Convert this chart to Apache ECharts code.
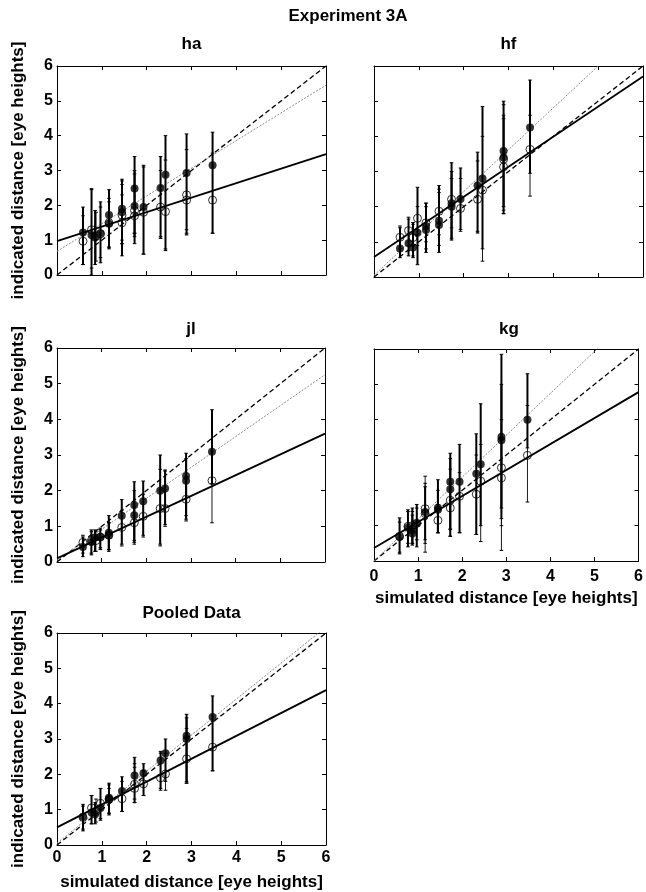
<!DOCTYPE html>
<html><head><meta charset="utf-8">
<script src="https://cdn.jsdelivr.net/npm/echarts@6/dist/echarts.min.js"></script>
<style>html,body{margin:0;padding:0;background:#fff}#c{width:646px;height:892px}</style>
</head><body><div id="c"></div>
<script>
// ---------- DATA ----------
// each point: [simulated distance, indicated distance, error low, error high]
const panelNames = ['ha', 'hf', 'jl', 'kg', 'Pooled Data'];
const xTicks = [0, 1, 2, 3, 4, 5, 6];
const yTicks = [0, 1, 2, 3, 4, 5, 6];

const ha_filled = [[0.58,1.22,0.3,1.95],[0.77,1.15,0.0,2.48],[0.85,1.08,0.3,1.85],[0.97,1.2,0.35,2.1],[1.16,1.72,0.75,2.45],[1.16,1.47,0.8,2.2],[1.45,1.9,0.55,2.75],[1.45,1.8,0.9,2.7],[1.73,2.48,0.9,3.4],[1.73,1.98,1.1,3.0],[1.93,1.95,0.6,3.15],[2.31,2.5,1.05,3.4],[2.42,2.88,0.7,4.0],[2.89,2.93,1.15,4.05],[3.47,3.15,1.2,4.1]];
const ha_open = [[0.58,0.97,0.3,1.7],[0.77,1.3,0.2,2.45],[0.87,1.12,0.4,1.8],[0.97,1.18,0.5,1.95],[1.16,1.5,0.8,2.1],[1.45,1.72,1.0,2.6],[1.45,1.5,0.9,2.3],[1.73,1.85,1.2,2.9],[1.73,1.7,1.2,2.5],[1.93,1.8,0.6,3.1],[2.31,1.95,1.1,3.0],[2.42,1.82,0.75,3.3],[2.89,2.3,1.2,3.6],[2.89,2.15,1.3,3.0],[3.47,2.15,1.2,3.5]];

const hf_filled = [[0.58,0.81,0.55,1.4],[0.77,0.96,0.6,1.65],[0.87,0.84,0.55,1.55],[0.97,1.26,0.35,2.55],[1.16,1.34,0.7,2.1],[1.16,1.45,0.8,2.0],[1.45,1.48,0.7,2.6],[1.45,1.6,0.9,2.4],[1.73,2.0,1.05,3.25],[1.73,2.1,1.1,3.0],[1.93,2.22,1.35,3.1],[2.31,2.6,1.25,3.55],[2.42,2.8,0.8,4.85],[2.89,3.58,1.8,5.0],[2.89,3.4,2.0,4.6],[3.48,4.25,2.95,5.6]];
const hf_open = [[0.58,1.13,0.8,1.45],[0.77,1.32,0.75,1.7],[0.87,1.12,0.6,1.5],[0.97,1.67,0.9,2.0],[1.16,1.54,1.0,2.1],[1.45,1.87,1.2,2.5],[1.73,2.21,1.4,2.8],[1.93,1.95,1.3,2.8],[2.31,2.21,1.3,3.3],[2.42,2.47,0.45,4.0],[2.89,3.35,1.9,4.9],[2.89,3.13,1.8,4.5],[3.48,3.63,2.3,4.6]];

const jl_filled = [[0.58,0.42,0.15,0.7],[0.77,0.56,0.2,0.9],[0.85,0.69,0.3,0.9],[0.97,0.7,0.35,0.95],[1.16,0.82,0.3,1.3],[1.16,0.75,0.35,1.1],[1.45,1.3,0.5,1.75],[1.73,1.6,0.55,2.25],[1.73,1.31,0.6,2.0],[1.93,1.7,0.75,2.27],[2.31,2.0,0.5,3.0],[2.42,2.06,1.05,2.58],[2.89,2.41,1.2,3.05],[2.89,2.28,1.3,2.9],[3.47,3.09,2.2,4.27]];
const jl_open = [[0.58,0.55,0.25,0.75],[0.77,0.6,0.25,0.85],[0.87,0.6,0.3,0.85],[0.97,0.7,0.4,0.9],[1.16,0.75,0.35,1.1],[1.45,0.97,0.45,1.45],[1.73,1.1,0.5,1.55],[1.93,1.28,0.7,1.9],[2.31,1.5,0.45,2.6],[2.42,1.5,1.0,2.55],[2.89,1.76,1.15,2.4],[3.47,2.28,1.1,3.1]];

const kg_filled = [[0.58,0.68,0.2,1.22],[0.77,0.95,0.4,1.45],[0.87,0.87,0.45,1.5],[0.87,0.78,0.5,1.3],[0.97,1.06,0.4,1.6],[1.16,1.39,0.6,2.1],[1.45,1.51,0.8,2.3],[1.45,1.45,0.8,2.0],[1.73,2.24,0.7,3.05],[1.73,2.03,0.9,2.9],[1.94,2.24,0.8,3.3],[2.32,2.47,0.75,3.6],[2.42,2.74,1.0,4.45],[2.89,3.51,1.2,5.85],[2.89,3.42,1.5,5.0],[3.48,4.0,3.2,5.3]];
const kg_open = [[0.58,0.7,0.25,1.1],[0.77,0.98,0.5,1.4],[0.87,1.0,0.5,1.4],[0.97,1.07,0.6,1.5],[1.16,1.48,0.25,2.4],[1.16,1.34,0.5,2.2],[1.45,1.15,0.8,1.6],[1.73,1.72,0.9,2.6],[1.73,1.5,0.7,2.2],[1.94,1.83,0.8,2.5],[2.32,1.89,0.75,3.0],[2.42,2.26,0.55,3.3],[2.89,2.64,0.3,4.0],[2.89,2.35,1.0,3.6],[3.48,2.99,1.67,4.4]];

const pooled_filled = [[0.58,0.8,0.4,1.15],[0.77,0.92,0.6,1.4],[0.85,0.87,0.6,1.2],[0.97,1.05,0.7,1.6],[1.16,1.34,0.85,1.75],[1.16,1.28,0.9,1.6],[1.45,1.53,0.95,1.93],[1.73,1.97,1.2,2.48],[1.93,2.03,1.4,2.3],[2.31,2.39,1.6,2.65],[2.42,2.6,1.8,3.0],[2.89,3.09,1.75,3.7],[2.89,3.0,1.8,3.6],[3.47,3.62,2.1,4.22]];
const pooled_open = [[0.58,0.78,0.45,1.1],[0.77,1.05,0.6,1.4],[0.87,0.95,0.65,1.3],[0.97,1.18,0.75,1.6],[1.16,1.3,0.9,1.7],[1.45,1.31,0.95,1.8],[1.73,1.6,1.2,2.2],[1.73,1.72,1.3,2.3],[1.93,1.73,1.4,2.1],[2.31,1.9,1.55,2.6],[2.42,2.01,1.55,2.6],[2.89,2.44,1.75,3.3],[3.47,2.77,2.1,3.5]];

// regression lines: [intercept, slope]
const identityLine = [0, 1];
const ha_fitOpen = [0.97, 0.417],   ha_fitFilled = [0.68, 0.795];
const hf_fitOpen = [0.57, 0.855],   hf_fitFilled = [0.05, 1.19];
const jl_fitOpen = [0.1, 0.583],    jl_fitFilled = [0.05, 0.867];
const kg_fitOpen = [0.37, 0.735],   kg_fitFilled = [0.0, 1.186];
const pooled_fitOpen = [0.5, 0.647], pooled_fitFilled = [0.05, 1.02];

// ---------- LAYOUT ----------
const FF = 'Liberation Sans, Arial, Helvetica, sans-serif';
const panels = [
  {name: panelNames[0], filled: ha_filled, open: ha_open, fo: ha_fitOpen, ff: ha_fitFilled, grid: {left: 57, top: 66, width: 269, height: 209}, yl: true, xl: false, tc: 46},
  {name: panelNames[1], filled: hf_filled, open: hf_open, fo: hf_fitOpen, ff: hf_fitFilled, grid: {left: 374, top: 66, width: 269, height: 211}, yl: false, xl: false, tc: 46},
  {name: panelNames[2], filled: jl_filled, open: jl_open, fo: jl_fitOpen, ff: jl_fitFilled, grid: {left: 57, top: 348, width: 268, height: 214}, yl: true, xl: false, tc: 331},
  {name: panelNames[3], filled: kg_filled, open: kg_open, fo: kg_fitOpen, ff: kg_fitFilled, grid: {left: 374, top: 349, width: 270, height: 212}, yl: false, xl: true, tc: 331, xm: 8, xg: 29},
  {name: panelNames[4], filled: pooled_filled, open: pooled_open, fo: pooled_fitOpen, ff: pooled_fitFilled, grid: {left: 57, top: 633, width: 269, height: 213}, yl: true, xl: true, tc: 615, xm: 5, xg: 29}
];

const grids = [], xAxes = [], yAxes = [], series = [], titles = [];
titles.push({text: 'Experiment 3A', left: 348, top: 8, textAlign: 'center', padding: 0,
  textStyle: {fontFamily: FF, fontWeight: 'bold', fontSize: 17, color: '#000'}});

function lineData(c) { return [[xTicks[0], c[0] + c[1] * xTicks[0]], [xTicks[xTicks.length - 1], c[0] + c[1] * xTicks[xTicks.length - 1]]]; }

function errRender(lw) {
  return function (params, api) {
    const x = api.value(0), lo = api.value(2), hi = api.value(3);
    const a = api.coord([x, lo]), b = api.coord([x, hi]);
    const c = 1.8;
    const st = {stroke: '#000', lineWidth: lw};
    return {type: 'group', children: [
      {type: 'line', shape: {x1: a[0], y1: a[1], x2: b[0], y2: b[1]}, style: st},
      {type: 'line', shape: {x1: a[0] - c, y1: a[1], x2: a[0] + c, y2: a[1]}, style: {stroke: '#000', lineWidth: 1}},
      {type: 'line', shape: {x1: b[0] - c, y1: b[1], x2: b[0] + c, y2: b[1]}, style: {stroke: '#000', lineWidth: 1}}
    ]};
  };
}

panels.forEach((p, i) => {
  const g = p.grid;
  grids.push({left: g.left, top: g.top, width: g.width, height: g.height, containLabel: false});
  titles.push({text: p.name, left: g.left + g.width / 2, top: p.tc - 10, textAlign: 'center', padding: 0,
    textStyle: {fontFamily: FF, fontWeight: 'bold', fontSize: 17, color: '#000'}});
  const axLine = {show: true, onZero: false, lineStyle: {color: '#000', width: 1}};
  const tick = {show: true, inside: true, length: 4, lineStyle: {color: '#000', width: 1}};
  const lbl = {fontFamily: FF, fontWeight: 'bold', fontSize: 16, color: '#000'};
  const nameStyle = {fontFamily: FF, fontWeight: 'bold', fontSize: 17, color: '#000'};
  // bottom x
  xAxes.push({type: 'value', gridIndex: i, min: xTicks[0], max: xTicks[xTicks.length - 1], interval: 1, position: 'bottom',
    axisLine: axLine, axisTick: tick, splitLine: {show: false},
    axisLabel: Object.assign({show: p.xl, margin: p.xm || 5}, lbl),
    name: p.xl ? 'simulated distance [eye heights]' : '', nameLocation: 'middle', nameGap: p.xg || 29,
    nameTextStyle: nameStyle});
  // top x (box)
  xAxes.push({type: 'value', gridIndex: i, min: xTicks[0], max: xTicks[xTicks.length - 1], interval: 1, position: 'top',
    axisLine: axLine, axisTick: tick, splitLine: {show: false}, axisLabel: {show: false}});
  yAxes.push({type: 'value', gridIndex: i, min: yTicks[0], max: yTicks[yTicks.length - 1], interval: 1, position: 'left',
    axisLine: axLine, axisTick: tick, splitLine: {show: false},
    axisLabel: Object.assign({show: p.yl, margin: 4}, lbl),
    name: p.yl ? 'indicated distance [eye heights]' : '', nameLocation: 'middle', nameGap: 30, nameRotate: 90,
    nameTextStyle: nameStyle});
  yAxes.push({type: 'value', gridIndex: i, min: yTicks[0], max: yTicks[yTicks.length - 1], interval: 1, position: 'right',
    axisLine: axLine, axisTick: tick, splitLine: {show: false}, axisLabel: {show: false}});
  const xi = i * 2, yi = i * 2;
  series.push({type: 'line', xAxisIndex: xi, yAxisIndex: yi, data: lineData(identityLine), showSymbol: false, clip: true, silent: true,
    lineStyle: {color: '#000', width: 1.3, type: [5, 3]}, z: 2});
  series.push({type: 'line', xAxisIndex: xi, yAxisIndex: yi, data: lineData(p.ff), showSymbol: false, clip: true, silent: true,
    lineStyle: {color: '#8a8a8a', width: 1, type: [2, 1.5]}, z: 2});
  series.push({type: 'line', xAxisIndex: xi, yAxisIndex: yi, data: lineData(p.fo), showSymbol: false, clip: true, silent: true,
    lineStyle: {color: '#000', width: 1.8}, z: 2});
  series.push({type: 'custom', xAxisIndex: xi, yAxisIndex: yi, data: p.open, renderItem: errRender(0.9), clip: true, z: 3});
  series.push({type: 'custom', xAxisIndex: xi, yAxisIndex: yi, data: p.filled, renderItem: errRender(2), clip: true, z: 3});
  series.push({type: 'scatter', xAxisIndex: xi, yAxisIndex: yi, data: p.open.map(d => [d[0], d[1]]), symbol: 'circle', symbolSize: 8,
    itemStyle: {color: 'rgba(0,0,0,0)', borderColor: '#000', borderWidth: 1}, z: 4});
  series.push({type: 'scatter', xAxisIndex: xi, yAxisIndex: yi, data: p.filled.map(d => [d[0], d[1]]), symbol: 'circle', symbolSize: 8,
    itemStyle: {color: '#000', borderColor: '#000', borderWidth: 0}, z: 5});
});

const chart = echarts.init(document.getElementById('c'), null, {renderer: 'canvas'});
chart.setOption({animation: false, backgroundColor: '#fff', title: titles, grid: grids, xAxis: xAxes, yAxis: yAxes, series: series});
</script></body></html>
